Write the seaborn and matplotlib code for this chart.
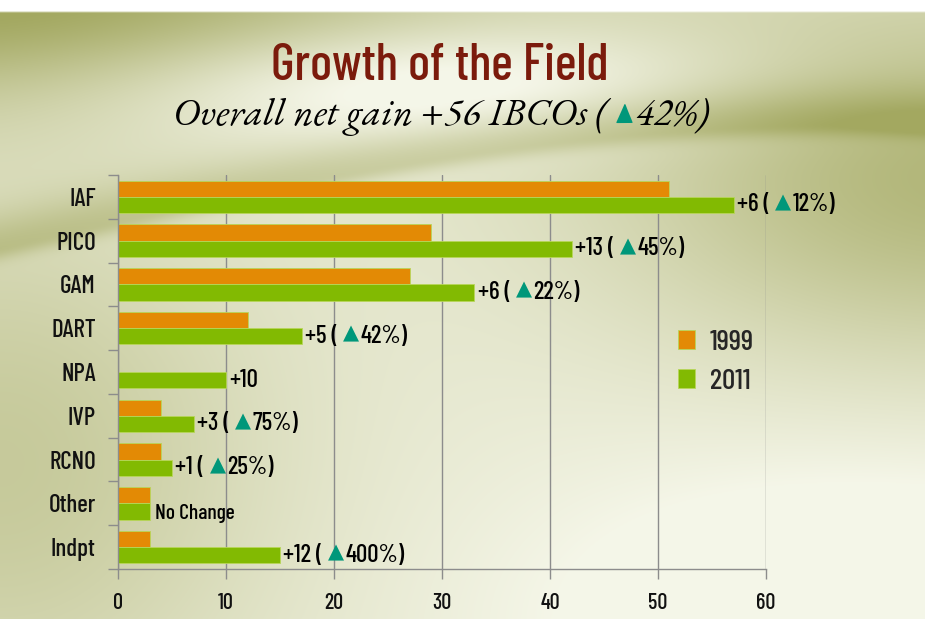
import numpy as np
import pandas as pd
import matplotlib
matplotlib.use("Agg")
import matplotlib.pyplot as plt
from matplotlib import font_manager
import seaborn as sns

# Data
categories = ["IAF", "PICO", "GAM", "DART", "NPA", "IVP", "RCNO", "Other", "Indpt"]
count_1999 = [51, 29, 27, 12, 0, 4, 4, 3, 3]
count_2011 = [57, 42, 33, 17, 10, 7, 5, 3, 15]
net_change = [6, 13, 6, 5, 10, 3, 1, 0, 12]
pct_change = [12, 45, 22, 42, None, 75, 25, None, 400]
years = ["1999", "2011"]

ORANGE = "#e38a05"
GREEN = "#82ba02"
TEAL = "#00977a"

installed = {f.name for f in font_manager.fontManager.ttflist}


def pick(cands, default):
    for c in cands:
        if c in installed:
            return c
    return default


narrow_name = pick(["Barlow Condensed", "Roboto Condensed", "Archivo Narrow",
                    "Asap Condensed", "Liberation Sans Narrow"], "Liberation Sans")
title_name = pick(["Barlow Condensed", "Archivo Narrow", "Asap Condensed"], narrow_name)
serif_name = pick(["EB Garamond", "Cormorant Garamond", "Liberation Serif"], "DejaVu Serif")
NARROW = [narrow_name, "DejaVu Sans"]
TITLE = [title_name, "DejaVu Sans"]
SERIF = [serif_name, "DejaVu Sans"]

df = pd.DataFrame({
    "org": categories * 2,
    "count": count_1999 + count_2011,
    "year": [years[0]] * len(categories) + [years[1]] * len(categories),
})

sns.set_theme(style="white")
plt.rcParams["font.family"] = NARROW

fig = plt.figure(figsize=(9.25, 6.19), dpi=100)

# background: soft olive/cream gradient with swooshes
H, W = 310, 460
X, Y = np.meshgrid(np.linspace(0, 1, W), np.linspace(0, 1, H))
w = 0.9 * np.exp(-((X / 0.55) ** 2 + ((Y - 0.0) / 0.18) ** 2))
w += 0.45 * np.exp(-((X / 0.3) ** 2 + ((Y - 0.75) / 0.45) ** 2))
w += 0.7 * np.exp(-(((X - 1.05) / 0.4) ** 2 + ((Y - 0.28) / 0.3) ** 2))
yc = 0.40 - 0.20 * np.sin(np.pi * np.clip(X, 0, 1) * 0.55)
band = np.where(Y < yc, np.exp(-((Y - yc) / 0.06) ** 2), np.exp(-((Y - yc) / 0.02) ** 2))
w += 0.35 * band
w -= 0.5 * np.exp(-(((X - 0.45) / 0.35) ** 2 + ((Y - 0.13) / 0.1) ** 2))
w -= 0.35 * np.exp(-(((X - 0.95) / 0.35) ** 2 + ((Y - 1.0) / 0.25) ** 2))
w = np.clip(w + 0.12, 0, 1)[..., None]
olive = np.array([0.64, 0.66, 0.38])
cream = np.array([0.96, 0.965, 0.91])
img = cream * (1 - w) + olive * w
img[: int(H * 0.02)] = 1.0
bg = fig.add_axes([0, 0, 1, 1], zorder=0)
bg.imshow(img, aspect="auto", extent=(0, 1, 0, 1), interpolation="bilinear")
bg.axis("off")

ax = fig.add_axes([0.1276, 0.0808, 0.7005, 0.6365], zorder=1)
ax.patch.set_alpha(0)

sns.barplot(data=df, y="org", x="count", hue="year", hue_order=years,
            palette=[ORANGE, GREEN], orient="h", width=0.74, saturation=1,
            edgecolor="#b8d65a", linewidth=0.6, ax=ax)

ax.set_xlim(0, 60)
ax.set_ylim(len(categories) - 0.5, -0.5)
ax.set_xlabel("")
ax.set_ylabel("")
ax.set_xticks(range(0, 61, 10))
ax.set_yticks(range(len(categories)), labels=categories)
ax.set_yticks(np.arange(-0.5, len(categories), 1), minor=True)
ax.tick_params(axis="y", which="major", length=0, pad=16, labelsize=18, labelcolor="#111111")
ax.tick_params(axis="y", which="minor", left=True, length=7, width=1, color="#8c8c8c")
ax.tick_params(axis="x", bottom=True, length=7, width=1, color="#8c8c8c", pad=10,
               labelsize=16, labelcolor="#111111")
for lab in ax.get_yticklabels() + ax.get_xticklabels():
    lab.set_family(NARROW)
    lab.set_fontweight("medium")
ax.grid(axis="x", color="#8c8c8c", linewidth=1)
ax.set_axisbelow(True)
for s in ["top", "right"]:
    ax.spines[s].set_visible(False)
for s in ["left", "bottom"]:
    ax.spines[s].set_color("#8c8c8c")
    ax.spines[s].set_linewidth(1)

leg = ax.legend(loc="upper left", bbox_to_anchor=(0.864, 0.607), frameon=False,
                fontsize=21, handlelength=0.6, handleheight=0.6, handletextpad=0.5,
                labelspacing=0.45, borderpad=0, borderaxespad=0)
for t in leg.get_texts():
    t.set_family(NARROW)
    t.set_fontweight("medium")


def chain(first, pieces):
    # each piece: text, colour, family, size, style, gap before (pt), vertical nudge (pt)
    t = first
    prev_dy = 0
    for s, c, fam, fs, st, gap, dy in pieces:
        t = ax.annotate(s, xy=(1, 0), xycoords=t, xytext=(gap, dy - prev_dy),
                        textcoords="offset points", color=c, ha="left", va="bottom",
                        fontsize=fs, family=fam, style=st, fontweight="medium",
                        annotation_clip=False)
        prev_dy = dy
    return t


# value labels beside the 2011 bars
for bar, d, p in zip(ax.containers[1], net_change, pct_change):
    x = bar.get_width()
    y = bar.get_y() + bar.get_height() / 2
    if d == 0:
        ax.text(x + 0.45, y + 0.05, "No Change", va="center", ha="left",
                fontsize=15.5, family=NARROW, fontweight="medium", color="black")
        continue
    first = ax.text(x + 0.3, y, f"+{d}" + (" (" if p is not None else ""),
                    va="center", ha="left", fontsize=18, family=NARROW,
                    fontweight="medium", color="black")
    if p is not None:
        chain(first, [("\u25b2", TEAL, NARROW, 15, "normal", 4, 3),
                      (f"{p}%)", "black", NARROW, 18, "normal", 1, 0)])

# title and subtitle
fig.text(0.476, 0.893, "Growth of the Field", ha="center", va="center",
         color="#7b1b0c", fontsize=37, family=TITLE, fontweight="medium")

sub0 = fig.text(0.2, 0.811, "Overall net gain +56 IBCOs (", ha="left", va="center",
                fontsize=28, family=SERIF, style="italic", color="black")
p2 = chain(sub0, [("\u25b2", TEAL, SERIF, 20, "normal", 5, 4),
                  ("42%)", "black", SERIF, 28, "italic", 1, 0)])

fig.canvas.draw()
r = fig.canvas.get_renderer()
x0 = sub0.get_window_extent(r).x0
x1 = p2.get_window_extent(r).x1
shift = (0.477 * fig.bbox.width - (x0 + x1) / 2) / fig.bbox.width
sub0.set_x(0.2 + shift)

fig.savefig("out.png", dpi=100)
